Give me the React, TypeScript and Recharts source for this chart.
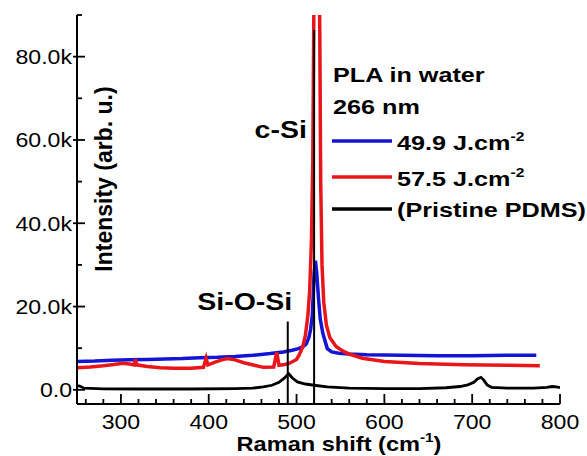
import React from 'react';
import { LineChart, Line, XAxis, YAxis, ReferenceLine, ReferenceDot } from 'recharts';

// ---- data (Raman shift in cm^-1, intensity in arb. u.) ----
const blueShift = [250, 270, 290, 310, 330, 350, 370, 390, 410, 430, 450, 470, 485, 495, 502, 507, 511, 514, 516, 518, 520, 521.5, 523, 525, 527, 530, 535, 540, 548, 560, 580, 620, 660, 700, 740, 773];
const blueIntensity = [6800, 6900, 7100, 7200, 7300, 7400, 7500, 7700, 7800, 8000, 8300, 8700, 9100, 9500, 9900, 10300, 11000, 12500, 14500, 18000, 28000, 31000, 28000, 22000, 17000, 13500, 9900, 9100, 8800, 8600, 8400, 8300, 8200, 8200, 8300, 8300];

const redShift = [250, 265, 280, 292, 302, 310, 315, 316.5, 318, 330, 345, 360, 380, 394, 397, 399, 408, 415, 421, 430, 440, 452, 462, 474, 477.5, 480, 485, 492, 500, 503, 507, 510, 513, 515, 517, 518.5, 519.5, 521, 523, 525, 526.5, 527.5, 529, 531, 534, 538, 545, 552, 560, 575, 600, 640, 690, 740, 777];
const redIntensity = [5300, 5500, 5800, 6100, 6400, 6200, 6000, 7300, 6000, 5600, 5300, 5200, 5200, 5400, 7600, 6000, 6700, 7200, 7500, 7200, 6500, 5900, 5400, 5500, 9000, 5900, 6000, 6400, 7300, 8400, 10300, 13000, 18000, 24000, 36000, 55000, 85000, 130000, 150000, 120000, 85000, 50000, 30000, 21000, 15500, 12500, 10400, 9400, 8600, 7600, 6800, 6300, 6000, 5900, 5800];

const blackShift = [250, 253, 258, 280, 320, 380, 430, 450, 462, 472, 480, 486, 491, 495, 501, 510, 520, 535, 560, 600, 640, 670, 686, 695, 702, 706, 710, 713, 717, 722, 740, 770, 785, 791, 796, 800];
const blackIntensity = [1000, 900, 400, 250, 200, 200, 300, 400, 700, 1100, 1800, 2800, 3900, 2900, 1900, 1400, 1100, 700, 400, 300, 300, 500, 800, 1200, 1800, 2600, 3000, 2400, 1200, 600, 400, 400, 600, 800, 700, 500];

const xTicks = [260, 280, 300, 320, 340, 360, 380, 400, 420, 440, 460, 480, 500, 520, 540, 560, 580, 600, 620, 640, 660, 680, 700, 720, 740, 760, 780, 800];
const yTicks = [0, 10000, 20000, 30000, 40000, 50000, 60000, 70000, 80000, 90000];
const yTickLabels: Record<number, string> = { 0: '0.0', 20000: '20.0k', 40000: '40.0k', 60000: '60.0k', 80000: '80.0k' };

const siOSiShift = 490;
const siOSiTop = 16400;
const cSiShift = 520;
const cSiTop = 86400;

const legendTitle = ['PLA in water', '266 nm'];
const seriesNames = ['49.9 J.cm', '57.5 J.cm', '(Pristine PDMS)'];
const seriesSup = ['-2', '-2', ''];
const seriesColors = ['#1414d6', '#e8161b', '#000000'];

const zip = (xs: number[], ys: number[]) => xs.map((x, i) => ({ x, y: ys[i] }));
const blueData = zip(blueShift, blueIntensity);
const redData = zip(redShift, redIntensity);
const blackData = zip(blackShift, blackIntensity);

const FONT = '"Liberation Sans", Arial, Helvetica, sans-serif';

const SText = (p: { x: number; y: number; sx?: number; anchor?: 'start' | 'middle' | 'end'; size: number; bold?: boolean; children: React.ReactNode }) => (
  <g transform={`translate(${p.x},${p.y}) scale(${p.sx ?? 1},1)`}>
    <text x={0} y={0} textAnchor={p.anchor ?? 'start'} fontSize={p.size} fontWeight={p.bold ? 'bold' : 'normal'} fontFamily={FONT} fill="#000">
      {p.children}
    </text>
  </g>
);

const XTick = (props: any) => {
  const { x, y, payload } = props;
  const v = payload.value as number;
  const major = v % 100 === 0;
  return (
    <g>
      <line x1={x} x2={x} y1={y} y2={y - (major ? 10 : 5)} stroke="#000" strokeWidth={1.8} />
      {major && (
        <SText x={x} y={y + 25} sx={1.1} anchor="middle" size={21}>
          {v}
        </SText>
      )}
    </g>
  );
};

const YTick = (props: any) => {
  const { x, y, payload } = props;
  const v = payload.value as number;
  const major = v % 20000 === 0;
  return (
    <g>
      <line x1={major ? x - 4 : x} x2={x + (major ? 8 : 5)} y1={y} y2={y} stroke="#000" strokeWidth={1.8} />
      {major && (
        <SText x={x - 5} y={y + 7.5} sx={1.1} anchor="end" size={21}>
          {yTickLabels[v]}
        </SText>
      )}
    </g>
  );
};

const XTitle = () => (
  <g transform="translate(339,451) scale(1.18,1)">
    <text x={0} y={0} textAnchor="middle" fontSize={20} fontWeight="bold" fontFamily={FONT} fill="#000">
      Raman shift (cm
      <tspan dy={-9} fontSize={13}>-1</tspan>
      <tspan dy={9}>)</tspan>
    </text>
  </g>
);

const YTitle = () => (
  <text x={112} y={179} transform="rotate(-90 112 179)" textAnchor="middle" fontSize={23} fontWeight="bold" fontFamily={FONT} fill="#000">
    Intensity (arb. u.)
  </text>
);

const AnnoLabel = (text: string) => (props: any) => {
  const vb = props.viewBox || {};
  const cx = (vb.x ?? 0) + (vb.width ?? 0) / 2;
  const cy = (vb.y ?? 0) + (vb.height ?? 0) / 2;
  return (
    <SText x={cx} y={cy + 8} sx={1.24} anchor="middle" size={23} bold>
      {text}
    </SText>
  );
};

const legendLineY = [141, 177, 209];
const legendTextY = [150, 186, 217];

const LegendOverlay = () => (
  <svg width={587} height={456} style={{ position: 'absolute', left: 0, top: 0, pointerEvents: 'none' }}>
    <SText x={333} y={82} sx={1.2} size={21} bold>{legendTitle[0]}</SText>
    <SText x={333} y={114} sx={1.2} size={21} bold>{legendTitle[1]}</SText>
    {seriesNames.map((n, i) => (
      <g key={n}>
        <line x1={332} x2={392} y1={legendLineY[i]} y2={legendLineY[i]} stroke={seriesColors[i]} strokeWidth={3.5} />
        <g transform={`translate(397,${legendTextY[i]}) scale(1.2,1)`}>
          <text x={0} y={0} fontSize={21} fontWeight="bold" fontFamily={FONT} fill="#000">
            {n}
            {seriesSup[i] && (
              <tspan dy={-9} fontSize={13}>
                {seriesSup[i]}
              </tspan>
            )}
          </text>
        </g>
      </g>
    ))}
  </svg>
);

export default function App() {
  return (
    <div style={{ position: 'absolute', left: 0, top: 0, width: 587, height: 456, background: '#fff' }}>
      <LineChart width={587} height={456} margin={{ top: 15, right: 27, bottom: 0, left: 7 }}>
        <XAxis
          type="number"
          dataKey="x"
          domain={[250, 800]}
          allowDataOverflow
          ticks={xTicks}
          interval={0}
          tick={<XTick />}
          tickLine={false}
          tickSize={0}
          tickMargin={0}
          height={52}
          axisLine={{ stroke: '#000', strokeWidth: 2 }}
          label={{ content: <XTitle /> }}
        />
        <YAxis
          type="number"
          domain={[-3400, 90000]}
          allowDataOverflow
          ticks={yTicks}
          interval={0}
          tick={<YTick />}
          tickLine={false}
          tickSize={0}
          tickMargin={0}
          width={70}
          axisLine={{ stroke: '#000', strokeWidth: 2 }}
          label={{ content: <YTitle /> }}
        />
        <Line data={blueData} dataKey="y" type="linear" stroke={seriesColors[0]} strokeWidth={3.5} dot={false} isAnimationActive={false} />
        <Line data={redData} dataKey="y" type="linear" stroke={seriesColors[1]} strokeWidth={3.5} dot={false} isAnimationActive={false} />
        <Line data={blackData} dataKey="y" type="linear" stroke={seriesColors[2]} strokeWidth={2.8} dot={false} isAnimationActive={false} />
        <ReferenceLine segment={[{ x: siOSiShift, y: -3400 }, { x: siOSiShift, y: siOSiTop }]} stroke="#000" strokeWidth={2} />
        <ReferenceLine segment={[{ x: cSiShift, y: -3400 }, { x: cSiShift, y: cSiTop }]} stroke="#000" strokeWidth={2} />
        <ReferenceDot x={441} y={21000} r={0} fill="none" stroke="none" label={{ content: AnnoLabel('Si-O-Si') }} />
        <ReferenceDot x={482} y={62500} r={0} fill="none" stroke="none" label={{ content: AnnoLabel('c-Si') }} />
      </LineChart>
      <LegendOverlay />
    </div>
  );
}
